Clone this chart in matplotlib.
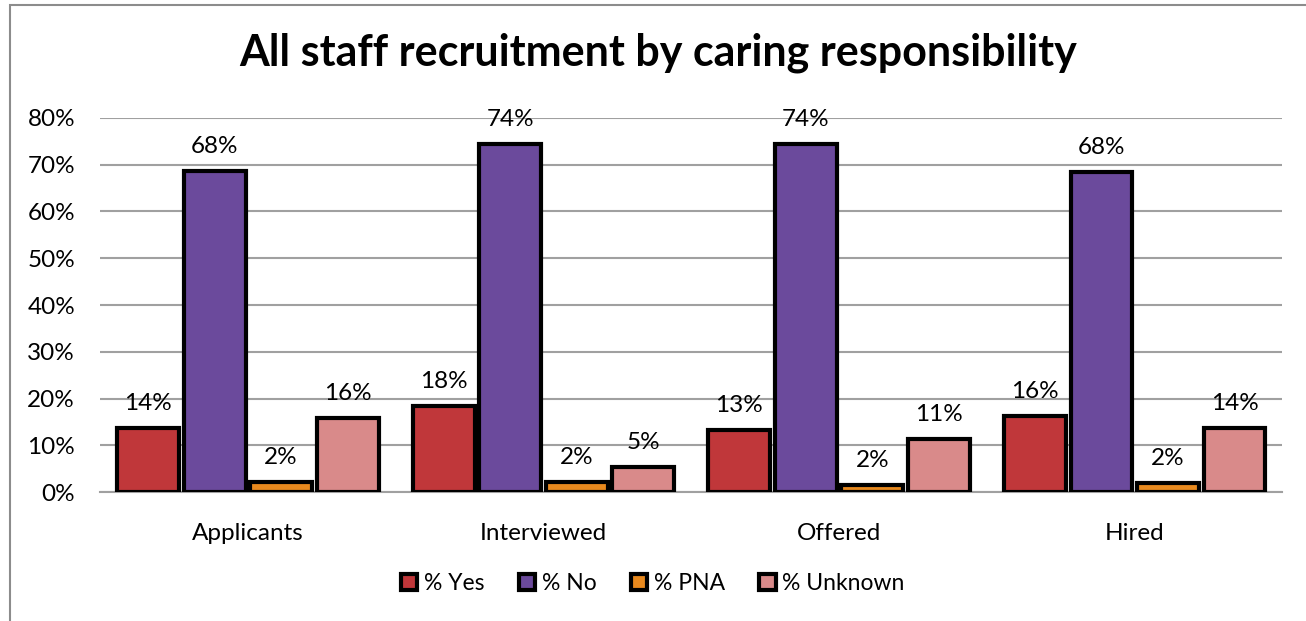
import numpy as np
import matplotlib.pyplot as plt
from matplotlib.patches import Rectangle

# Datos
categories = ['Applicants', 'Interviewed', 'Offered', 'Hired']
yes_vals = [13.7, 18.4, 13.3, 16.3]
no_vals = [68.6, 74.4, 74.4, 68.5]
pna_vals = [2.1, 2.1, 1.6, 1.9]
unknown_vals = [15.8, 5.4, 11.4, 13.7]
yes_labels = ['14%', '18%', '13%', '16%']
no_labels = ['68%', '74%', '74%', '68%']
pna_labels = ['2%', '2%', '2%', '2%']
unknown_labels = ['16%', '5%', '11%', '14%']
series_names = ['% Yes', '% No', '% PNA', '% Unknown']

plt.rcParams['font.family'] = ['Lato', 'DejaVu Sans']

fig = plt.figure(figsize=(13.06, 6.21), dpi=100)
ax = fig.add_axes([0.0766, 0.2077, 0.9054, 0.6023])

# Marco gris del grafico
fig.patches.append(Rectangle((0.008, -0.05), 1.2, 1.042, transform=fig.transFigure,
                             fill=False, edgecolor='#8c8c8c', linewidth=1.5))

series = [yes_vals, no_vals, pna_vals, unknown_vals]
labels = [yes_labels, no_labels, pna_labels, unknown_labels]
colors = ['#C0373A', '#6B4A9C', '#E8891E', '#D98A8A']

x = np.arange(len(categories))
w = 0.225
for i, (vals, labs, col, name) in enumerate(zip(series, labels, colors, series_names)):
    pos = x + (i - 1.5) * w
    bars = ax.bar(pos, vals, width=w * 0.93, color=col, edgecolor='black',
                  linewidth=3, label=name, zorder=3)
    for b, lab in zip(bars, labs):
        ax.text(b.get_x() + b.get_width() / 2, b.get_height() + 3.0, lab,
                ha='center', va='bottom', fontsize=17.5, zorder=4)

ax.set_ylim(0, 80)
ax.set_xlim(-0.5, 3.5)
ax.set_yticks(range(0, 81, 10))
ax.set_yticklabels([f'{v}%' for v in range(0, 81, 10)], fontsize=17.5)
ax.set_xticks(x)
ax.set_xticklabels(categories, fontsize=17.5)
ax.tick_params(axis='both', length=0)
ax.tick_params(axis='y', pad=18)
ax.tick_params(axis='x', pad=22)
ax.yaxis.grid(True, color='#a0a0a0', linewidth=1.5, zorder=0)
ax.set_axisbelow(True)
for s in ['top', 'right', 'left']:
    ax.spines[s].set_visible(False)
ax.spines['bottom'].set_color('#a0a0a0')
ax.spines['bottom'].set_linewidth(1.5)

fig.text(0.504, 0.915, 'All staff recruitment by caring responsibility',
         ha='center', va='center', fontsize=31, fontweight='bold')

fig.legend(loc='center', bbox_to_anchor=(0.5, 0.06), ncol=4, frameon=False,
           fontsize=16.5, handlelength=0.7, handleheight=0.7, handletextpad=0.3,
           columnspacing=1.5)

plt.savefig('out.png', dpi=100)
